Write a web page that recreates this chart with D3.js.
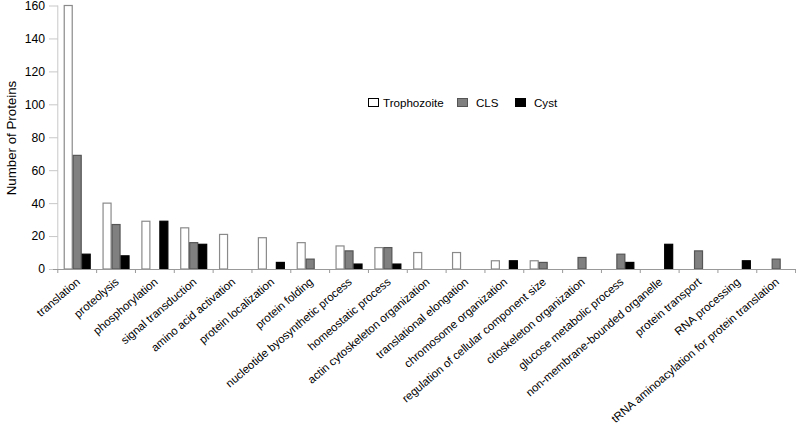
<!DOCTYPE html>
<html><head><meta charset="utf-8">
<script src="https://cdn.jsdelivr.net/npm/d3@7"></script>
<style>body{margin:0;background:#fff}svg{display:block}text{font-family:Arial,'Liberation Sans',sans-serif;fill:#000}</style>
</head><body><svg id="c" width="796" height="425"></svg>
<script>
const categories = ["translation","proteolysis","phosphorylation","signal transduction","amino acid activation","protein localization","protein folding","nucleotide byosynthetic process","homeostatic process","actin cytoskeleton organization","translational elongation","chromosome organization","regulation of cellular component size","citoskeleton organization","glucose metabolic process","non-membrane-bounded organelle","protein transport","RNA processing","tRNA aminoacylation for protein translation"];
const seriesNames = ["Trophozoite","CLS","Cyst"];
const trophozoite = [160,40,29,25,21,19,16,14,13,10,10,5,5,0,0,0,0,0,0];
const cls = [69,27,0,16,0,0,6,11,13,0,0,0,4,7,9,0,11,0,6];
const cyst = [9,8,29,15,0,4,0,3,3,0,0,5,0,0,4,15,0,5,0];
const yTicks = [0,20,40,60,80,100,120,140,160];
const yTitle = "Number of Proteins";

const fills = ["#ffffff","#808080","#000000"];
const strokes = ["#8a8a8a","#555555","#000000"];
const values = [trophozoite, cls, cyst];

const svg = d3.select("#c");
const x = d3.scaleBand().domain(categories).range([57.8, 795.6]).padding(0);
const xs = d3.scaleBand().domain(seriesNames).range([0, x.bandwidth()]).paddingInner(0).paddingOuter(0.66);
const y = d3.scaleLinear().domain([0,160]).range([269, 5.5]);

// y axis (faint)
const ay = svg.append("g");
ay.append("line").attr("x1", 57.8).attr("x2", 57.8).attr("y1", y(160)).attr("y2", y(0)).attr("stroke","#c8c8c8");
ay.selectAll("line.t").data(yTicks).join("line").attr("class","t")
  .attr("x1", 49).attr("x2", 57.8).attr("y1", d=>y(d)+0.5).attr("y2", d=>y(d)+0.5).attr("stroke","#c8c8c8");

// bars
seriesNames.forEach((s, si) => {
  svg.append("g").selectAll("rect").data(categories.map((c,i)=>({c, v: values[si][i]})).filter(d=>d.v>0))
    .join("rect")
    .attr("x", d => x(d.c) + xs(s) + 0.5)
    .attr("y", d => y(d.v))
    .attr("width", xs.bandwidth() - 1)
    .attr("height", d => y(0) - y(d.v))
    .attr("fill", fills[si])
    .attr("stroke", strokes[si])
    .attr("stroke-width", 1.2);
});

// x axis line + ticks at band edges
const ax = svg.append("g");
ax.append("line").attr("x1", 53).attr("x2", 796).attr("y1", y(0)+0.5).attr("y2", y(0)+0.5).attr("stroke","#999").attr("stroke-width",1);
const edges = categories.map(c => x(c)).concat([x.range()[1]]);
ax.selectAll("line.t").data(edges).join("line").attr("class","t")
  .attr("x1", d=>d).attr("x2", d=>d).attr("y1", y(0)).attr("y2", y(0)+4)
  .attr("stroke","#999");

// x labels
svg.append("g").selectAll("text").data(categories).join("text")
  .attr("transform", d => `translate(${x(d)+x.bandwidth()/2+1},${y(0)+11}) rotate(-40.5)`)
  .attr("text-anchor","end")
  .attr("dy","0.35em")
  .attr("font-size", 11.4)
  .text(d=>d);

// y labels
svg.append("g").selectAll("text").data(yTicks).join("text")
  .attr("x", 45).attr("y", d=>y(d)).attr("dy","0.36em")
  .attr("text-anchor","end").attr("font-size", 12.2).text(d=>d);

svg.append("text")
  .attr("transform", `translate(11,${138}) rotate(-90)`)
  .attr("text-anchor","middle").attr("dy","0.35em")
  .attr("font-size", 13.3).text(yTitle);

// legend
const legX = [368, 457, 515];
const lg = svg.append("g");
seriesNames.forEach((s, si) => {
  lg.append("rect").attr("x", legX[si]+0.5).attr("y", 98.5).attr("width", 10).attr("height", 8)
    .attr("fill", fills[si]).attr("stroke", si===0?"#000":strokes[si]).attr("stroke-width",1);
  lg.append("text").attr("x", legX[si] + (si===0?15:19)).attr("y", 102.5).attr("dy","0.35em")
    .attr("font-size", 11.6).text(s);
});
</script></body></html>
